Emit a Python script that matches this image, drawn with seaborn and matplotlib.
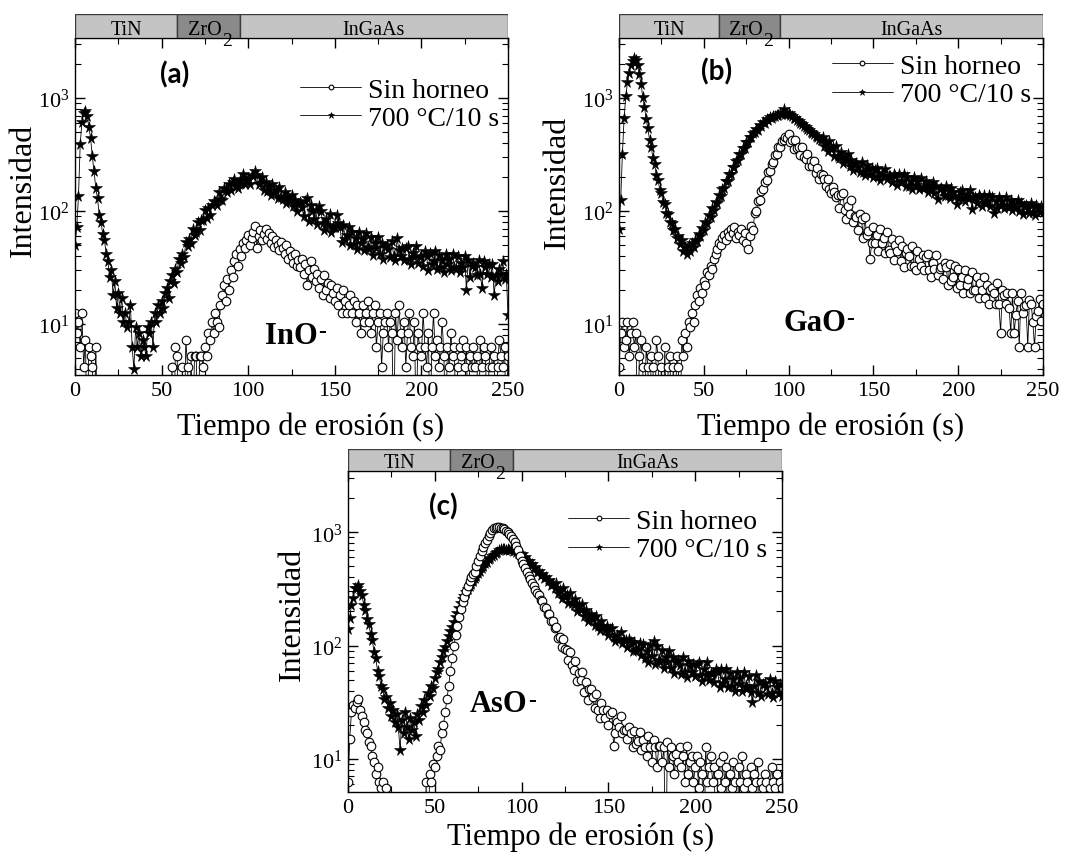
import numpy as np
import pandas as pd
import matplotlib
matplotlib.use("Agg")
import matplotlib.pyplot as plt
import seaborn as sns
from matplotlib.ticker import (LogLocator, LogFormatterMathtext, MultipleLocator,
                               NullFormatter)

# ---------------------------------------------------------------- data
# erosion time (s), one reading per second
tiempo = np.arange(0, 251, 1)

serie_labels = ["Sin horneo", "700 °C/10 s"]

# layer stack shown on top of every profile
capas = ["TiN", "ZrO", "InGaAs"]
subindices = ["", "2", ""]
limites_capa = [0, 59, 95, 250]
colores_capa = ["#c4c4c4", "#8a8a8a", "#c4c4c4"]

# InO- signal (counts; 1 = nothing detected)
ino_sin = [12.6, 8.4, 10.5, 6.3, 12.6, 4.2, 7.3, 1, 6.3, 5.2,
           4.2, 1, 6.3, 1, 1, 1, 1, 1, 1, 1,
           1, 1, 1, 1, 1, 1, 1, 1, 1, 1,
           1, 1, 1, 1, 1, 1, 1, 1, 1, 1,
           1, 1, 1, 1, 1, 1, 1, 1, 1, 1,
           1, 1, 1, 1, 1, 1, 4.2, 1, 6.3, 5.2,
           1, 1, 4.2, 1, 7.3, 4.2, 1, 5.2, 1, 5.2,
           5.2, 1, 5.2, 5.2, 4.2, 6.3, 5.2, 8.4, 7.3, 10.5,
           8.4, 12.6, 10.5, 9.4, 14.7, 18, 22, 16, 25, 20,
           30, 26, 36, 42, 33, 46, 40, 52, 47, 56,
           62, 50, 58, 66, 74, 47, 60, 68, 55, 63,
           70, 57, 64, 52, 60, 48, 56, 50, 45, 53,
           47, 42, 50, 38, 44, 40, 35, 42, 33, 37,
           32, 38, 28, 34, 22, 30, 36, 26, 31, 24,
           28, 21, 25, 18, 27, 20, 23, 17, 22, 19,
           16, 21, 14.7, 18, 12.6, 20, 16, 12.6, 14.7, 18,
           12.6, 16, 10.5, 14.7, 12.6, 8.4, 14.7, 10.5, 12.6, 16,
           10.5, 8.4, 12.6, 14.7, 6.3, 10.5, 12.6, 4.2, 8.4, 10.5,
           12.6, 6.3, 10.5, 8.4, 1, 12.6, 7.3, 14.7, 8.4, 6.3,
           10.5, 4.2, 8.4, 12.6, 6.3, 5.2, 10.5, 1, 8.4, 6.3,
           5.2, 12.6, 6.3, 4.2, 8.4, 1, 6.3, 12.6, 5.2, 7.3,
           4.2, 6.3, 10.5, 5.2, 1, 6.3, 4.2, 8.4, 5.2, 6.3,
           1, 4.2, 6.3, 5.2, 7.3, 4.2, 6.3, 1, 5.2, 4.2,
           6.3, 4.2, 5.2, 1, 7.3, 4.2, 6.3, 5.2, 1, 4.2,
           6.3, 4.2, 5.2, 1, 4.2, 7.3, 5.2, 4.2, 6.3, 1,
           5.2]
ino_700 = [50, 72, 135, 390, 610, 740, 770, 700, 555, 440,
           305, 225, 160, 130, 92, 80, 63, 55, 42, 36,
           26, 30, 18, 24, 14, 19, 12.6, 17, 10.5, 12.6,
           9.4, 10.5, 14.7, 6.3, 4.0, 9.4, 6.3, 8.4, 5.2, 7.3,
           6.3, 5.2, 9.4, 8.4, 10.5, 6.3, 12.6, 10.5, 14.7, 12.6,
           16, 14, 19, 21, 17, 24, 27, 23, 31, 29,
           38, 35, 42, 39, 53, 49, 57, 52, 70, 61,
           65, 80, 68, 83, 84, 103, 87, 107, 92, 113,
           122, 120, 114, 147, 127, 125, 160, 155, 148, 173,
           153, 182, 193, 168, 160, 188, 178, 213, 174, 190,
           195, 175, 210, 203, 225, 208, 175, 178, 199, 154,
           180, 151, 162, 139, 172, 146, 154, 131, 162, 132,
           128, 148, 117, 133, 123, 140, 110, 126, 101, 116,
           121, 108, 91, 124, 130, 82, 113, 100, 85, 102,
           77, 110, 100, 78, 68, 85, 75, 94, 66, 73,
           73, 92, 78, 72, 53, 75, 57, 61, 73, 50,
           66, 51, 58, 46, 66, 52, 57, 45, 64, 48,
           46, 59, 41, 52, 47, 59, 42, 52, 38, 48,
           50, 46, 39, 54, 40, 37, 58, 45, 40, 47,
           37, 47, 49, 38, 34, 43, 39, 49, 35, 39,
           40, 33, 44, 40, 30, 43, 34, 36, 44, 31,
           41, 32, 37, 29, 42, 34, 38, 30, 42, 32,
           31, 40, 29, 35, 32, 40, 20, 37, 26, 33,
           35, 32, 27, 37, 28, 21, 36, 32, 28, 34,
           26, 34, 18, 27, 24, 31, 28, 36, 25, 28,
           12]

# GaO- signal
gao_sin = [4.2, 8.4, 10.5, 6.3, 7.3, 10.5, 5.2, 8.4, 10.5, 6.3,
           8.4, 1, 5.2, 7.3, 4.2, 1, 6.3, 4.2, 1, 5.2,
           4.2, 1, 7.3, 5.2, 1, 4.2, 1, 6.3, 1, 4.2,
           5.2, 1, 4.2, 1, 5.2, 4.2, 1, 7.3, 5.2, 8.4,
           6.3, 10.5, 9.4, 12.6, 10.5, 14.7, 18, 16, 21, 19,
           24, 22, 29, 27, 33, 31, 38, 42, 46, 52,
           50, 58, 62, 56, 66, 60, 70, 64, 72, 58,
           66, 62, 70, 56, 64, 52, 46, 60, 74, 68,
           96, 100, 122, 126, 152, 156, 182, 190, 220, 228,
           262, 270, 312, 320, 368, 372, 418, 422, 450, 440,
           486, 406, 423, 358, 424, 360, 370, 311, 370, 300,
           287, 317, 252, 277, 252, 277, 219, 239, 192, 212,
           210, 191, 167, 194, 157, 144, 164, 148, 132, 140,
           106, 138, 144, 102, 86, 112, 95, 125, 80, 90,
           89, 68, 95, 85, 58, 88, 62, 67, 38, 52,
           73, 52, 61, 44, 70, 52, 58, 43, 66, 45,
           43, 57, 37, 50, 44, 56, 36, 49, 32, 43,
           46, 40, 33, 49, 33, 30, 44, 38, 33, 41,
           30, 39, 42, 30, 26, 35, 31, 41, 27, 31,
           32, 25, 35, 32, 22, 34, 24, 26, 33, 21,
           31, 22, 26, 19, 30, 22, 25, 19, 29, 20,
           20, 26, 17, 23, 20, 26, 17, 22, 15, 20,
           21, 19, 15, 23, 15, 8.4, 20, 18, 15, 19,
           14, 8.4, 19, 8.4, 12, 16, 6.3, 19, 12.5, 14.5,
           14.7, 6.3, 16.4, 15.2, 10.5, 6.3, 11.9, 13, 16.8, 10.6,
           15]
gao_700 = [70, 125, 320, 660, 1040, 1380, 1680, 1980, 2120, 2260,
           2180, 1980, 1620, 1320, 1030, 840, 650, 540, 430, 370,
           295, 262, 210, 190, 155, 145, 120, 116, 96, 95,
           80, 79, 68, 69, 58, 60, 51, 55, 44, 48,
           42, 50, 44, 52, 48, 56, 54, 63, 60, 71,
           68, 80, 78, 92, 89, 106, 102, 121, 118, 138,
           135, 158, 160, 185, 186, 215, 214, 246, 248, 280,
           282, 318, 322, 362, 360, 405, 410, 452, 455, 492,
           498, 535, 520, 575, 572, 615, 608, 650, 642, 680,
           672, 700, 688, 715, 705, 735, 718, 800, 730, 718,
           735, 705, 690, 670, 660, 635, 622, 600, 588, 565,
           552, 535, 520, 505, 490, 478, 462, 450, 438, 425,
           452, 376, 401, 340, 417, 351, 368, 309, 380, 307,
           295, 336, 267, 303, 281, 318, 251, 286, 230, 261,
           265, 247, 221, 271, 223, 209, 254, 235, 214, 239,
           202, 232, 240, 204, 190, 218, 203, 238, 191, 204,
           205, 181, 215, 206, 171, 211, 180, 186, 211, 167,
           199, 168, 184, 158, 199, 171, 183, 157, 197, 162,
           160, 184, 149, 170, 160, 182, 145, 168, 127, 158,
           161, 151, 137, 167, 138, 131, 160, 147, 136, 115,
           130, 149, 155, 132, 122, 141, 131, 154, 104, 132,
           133, 118, 140, 134, 112, 138, 117, 122, 140, 110,
           132, 96, 122, 106, 133, 114, 123, 106, 132, 110,
           108, 125, 102, 116, 109, 125, 101, 117, 95, 111,
           113, 106, 96, 119, 99, 93, 114, 106, 98, 110,
           98]

# AsO- signal
aso_sin = [6.3, 15, 26, 30, 28, 32, 34, 27, 24, 21,
           18, 17, 14, 13, 10.5, 9.4, 7.3, 8.4, 6.3, 5.5,
           6.3, 1, 5.5, 1, 1, 1, 1, 1, 1, 1,
           1, 1, 1, 1, 1, 1, 1, 1, 1, 1,
           1, 1, 1, 1, 1, 6.3, 1, 7.3, 6.3, 9,
           8.4, 10.5, 13, 12, 17, 20, 26, 34, 44, 60,
           78, 100, 125, 150, 180, 210, 240, 270, 300, 335,
           370, 400, 425, 450, 500, 560, 620, 680, 740, 800,
           860, 920, 980, 1040, 1080, 1100, 1120, 1115, 1100, 1080,
           1060, 1030, 1000, 960, 920, 870, 820, 760, 690, 620,
           560, 520, 480, 445, 410, 385, 360, 335, 310, 292,
           280, 250, 246, 218, 215, 188, 190, 165, 165, 142,
           147, 117, 120, 98, 115, 93, 92, 75, 87, 68,
           61, 73, 49, 57, 50, 59, 39, 48, 33, 41,
           41, 35, 28, 37, 27, 23, 31, 27, 23, 27,
           20, 25, 26, 13, 17, 21, 19, 24, 17, 18,
           18, 15, 19, 17, 12.6, 17.5, 13.5, 14.3, 17.3, 11.9,
           14.7, 12.6, 10.5, 16, 12.6, 9.4, 14.7, 12.6, 8.4, 13,
           13, 9.4, 12.6, 1, 14, 8.4, 12.6, 10.5, 7.3, 11,
           9.4, 12.6, 8.4, 10.5, 6.3, 13, 7.3, 9.4, 10.5, 6.3,
           8.4, 10.5, 5.5, 9.4, 7.3, 1, 12.6, 6.3, 8.4, 10.5,
           6.3, 8.4, 1, 7.3, 9.4, 5.5, 10.5, 6.3, 8.4, 1,
           7.3, 5.5, 9.4, 6.3, 1, 8.4, 6.3, 10.5, 5.5, 7.3,
           6.3, 1, 8.4, 5.5, 7.3, 6.3, 9.4, 1, 6.3, 5.5,
           7.3, 6.3, 1, 5.5, 8.4, 6.3, 5.5, 7.3, 1, 6.3,
           5.5]
aso_700 = [140, 175, 230, 265, 320, 325, 340, 305, 280, 230,
           205, 170, 155, 126, 112, 88, 78, 60, 54, 44,
           41, 34, 35, 28, 31, 24, 27, 21, 25, 19,
           12, 22, 17, 26, 19, 15, 23, 18, 21, 16,
           25, 22, 29, 26, 33, 30, 38, 36, 44, 42,
           52, 58, 62, 72, 80, 90, 98, 110, 122, 135,
           146, 160, 178, 195, 215, 238, 255, 275, 298, 318,
           335, 352, 370, 392, 412, 438, 455, 480, 505, 530,
           548, 575, 595, 612, 630, 660, 675, 690, 712, 705,
           718, 700, 715, 695, 705, 680, 690, 665, 655, 640,
           640, 598, 600, 552, 560, 520, 525, 482, 490, 450,
           455, 420, 430, 395, 405, 370, 378, 345, 352, 325,
           353, 292, 310, 263, 322, 270, 281, 237, 290, 235,
           226, 256, 202, 226, 207, 233, 182, 205, 165, 187,
           188, 172, 152, 183, 149, 138, 165, 150, 136, 149,
           124, 141, 143, 120, 110, 124, 115, 132, 105, 111,
           111, 97, 114, 108, 89, 108, 91, 93, 106, 82,
           103, 78, 90, 71, 102, 81, 110, 69, 99, 74,
           72, 91, 64, 80, 72, 89, 63, 79, 57, 72,
           75, 67, 56, 80, 59, 53, 73, 66, 58, 69,
           54, 67, 72, 55, 49, 62, 55, 72, 50, 57,
           57, 48, 62, 59, 43, 62, 47, 51, 62, 43,
           57, 44, 51, 40, 59, 46, 52, 40, 58, 44,
           42, 54, 39, 32, 44, 55, 38, 49, 36, 46,
           47, 43, 37, 51, 38, 35, 49, 43, 38, 46,
           36]

# ---------------------------------------------------------------- style
sns.set_theme(style="ticks")
plt.rcParams.update({
    "font.family": ["Liberation Serif", "DejaVu Serif"],
    "mathtext.fontset": "custom",
    "mathtext.rm": "Liberation Serif",
    "mathtext.it": "Liberation Serif:italic",
    "mathtext.bf": "Liberation Serif:bold",
    "axes.edgecolor": "black",
    "axes.linewidth": 1.0,
    "axes.labelcolor": "black",
    "text.color": "black",
    "xtick.color": "black",
    "ytick.color": "black",
    "axes.facecolor": "white",
    "figure.facecolor": "white",
})

W, H = 1081, 854
fig = plt.figure(figsize=(W / 100, H / 100), dpi=100)


def frac_rect(left, top, right, bottom):
    """pixel box -> figure fraction rect"""
    return [left / W, 1 - bottom / H, (right - left) / W, (bottom - top) / H]


def draw_header(hx):
    anchos = np.diff(limites_capa)
    hx.barh(y=[0.5] * len(capas), width=anchos, left=limites_capa[:-1], height=1.0,
            color=colores_capa, edgecolor="#3c3c3c", linewidth=1.0)
    for nombre, sub, a, b in zip(capas, subindices, limites_capa[:-1], limites_capa[1:]):
        cx = (a + b) / 2
        if sub:
            t = hx.text(cx - 2.0, 0.17, nombre, ha="center", va="baseline",
                        fontsize=14.5, clip_on=False)
            hx.annotate(sub, xy=(1.0, 0.0), xycoords=t, xytext=(0.3, -4.2),
                        textcoords="offset points", ha="left", va="baseline",
                        fontsize=14, annotation_clip=False)
        else:
            hx.text(cx, 0.17, nombre, ha="center", va="baseline", fontsize=14.5)
    hx.set_xlim(0, 250)
    hx.set_ylim(0, 1)
    hx.axis("off")


def draw_panel(ax, sin, rec, ylim, tag, tag_xy, ion, ion_xy, leg_xy, ylab_xy, xlab_xy):
    datos = pd.DataFrame({"t": tiempo, "sin": sin, "rec": rec})
    sns.lineplot(data=datos, x="t", y="rec", ax=ax, estimator=None, sort=False,
                 color="black", lw=0.6, marker="*", markersize=8.5,
                 markerfacecolor="black", markeredgecolor="black",
                 markeredgewidth=0.4, label=serie_labels[1])
    sns.lineplot(data=datos, x="t", y="sin", ax=ax, estimator=None, sort=False,
                 color="black", lw=0.6, marker="o", markersize=6.2,
                 markerfacecolor="white", markeredgecolor="black",
                 markeredgewidth=0.8, label=serie_labels[0])

    ax.set_xlim(0, 250)
    ax.set_yscale("log")
    ax.set_ylim(*ylim)
    ax.xaxis.set_major_locator(MultipleLocator(50))
    ax.xaxis.set_minor_locator(MultipleLocator(25))
    ax.yaxis.set_major_locator(LogLocator(base=10))
    ax.yaxis.set_minor_locator(LogLocator(base=10, subs=np.arange(2, 10) * 1.0,
                                          numticks=20))
    ax.yaxis.set_major_formatter(LogFormatterMathtext())
    ax.yaxis.set_minor_formatter(NullFormatter())
    ax.tick_params(which="both", direction="in", top=True, right=True,
                   labelsize=16, pad=4)
    ax.tick_params(which="major", length=7, width=1.0)
    ax.tick_params(which="minor", length=4, width=0.8)
    for s in ax.spines.values():
        s.set_color("black")
        s.set_linewidth(1.0)

    ax.set_xlabel("Tiempo de erosión (s)", fontsize=22, va="baseline")
    ax.xaxis.set_label_coords(*xlab_xy)
    ax.set_ylabel("Intensidad", fontsize=23, va="center")
    ax.yaxis.set_label_coords(*ylab_xy)

    h, l = ax.get_legend_handles_labels()
    orden = [l.index(serie_labels[0]), l.index(serie_labels[1])]
    ax.legend([h[i] for i in orden], [l[i] for i in orden], loc="center left",
              bbox_to_anchor=leg_xy, frameon=False, fontsize=20,
              handlelength=2.2, handletextpad=0.25, labelspacing=0.1,
              borderpad=0, borderaxespad=0, markerscale=0.55, numpoints=1)

    ax.text(tag_xy[0], tag_xy[1], tag, ha="center", va="center",
            fontsize=20, fontweight="bold", family=["Lato", "DejaVu Sans"])
    t_ion = ax.text(ion_xy[0], ion_xy[1], ion, ha="center", va="center",
                    fontsize=22, fontweight="bold")
    ax.annotate("-", xy=(1.0, 1.0), xycoords=t_ion, xytext=(0, -0.5),
                textcoords="offset points", ha="left", va="top",
                fontsize=17, fontweight="bold")


# panel (a)
ax_a = fig.add_axes(frac_rect(75, 39, 508, 376))
hx_a = fig.add_axes(frac_rect(75, 15, 508, 39))
draw_header(hx_a)
draw_panel(ax_a, ino_sin, ino_700, (3.55, 3400), "(a)", (57.7, 1630), "InO", (125, 8.0),
           (0.52, 0.804), (-0.120, 0.552), (0.545, -0.175))

# panel (b)
ax_b = fig.add_axes(frac_rect(619, 39, 1043, 376))
hx_b = fig.add_axes(frac_rect(619, 15, 1043, 39))
draw_header(hx_b)
draw_panel(ax_b, gao_sin, gao_700, (3.55, 3400), "(b)", (57.8, 1740), "GaO", (115.6, 10.4),
           (0.502, 0.874), (-0.146, 0.574), (0.498, -0.175))

# panel (c)
ax_c = fig.add_axes(frac_rect(348, 472, 782, 793))
hx_c = fig.add_axes(frac_rect(348, 450, 782, 472))
draw_header(hx_c)
draw_panel(ax_c, aso_sin, aso_700, (5.1, 3470), "(c)", (54.7, 1700), "AsO", (87, 30.8),
           (0.507, 0.799), (-0.129, 0.555), (0.537, -0.162))

fig.savefig("out.png", dpi=100)
